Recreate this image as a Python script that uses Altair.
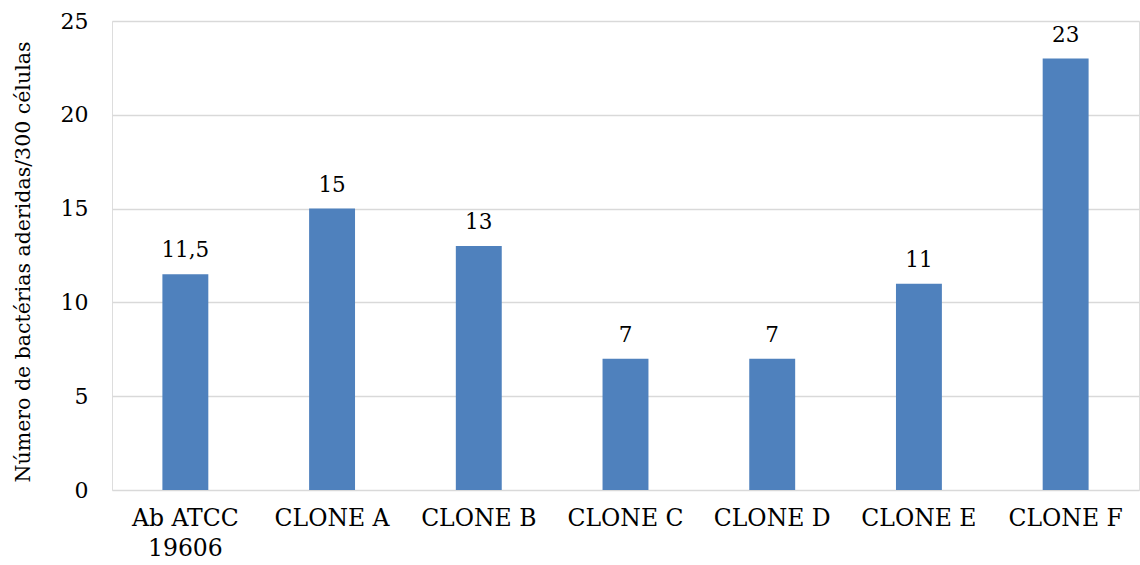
import altair as alt
import pandas as pd

# Adhered bacteria counts per 300 cells for each strain
categories = ["Ab ATCC\n19606", "CLONE A", "CLONE B", "CLONE C", "CLONE D", "CLONE E", "CLONE F"]
values = [11.5, 15, 13, 7, 7, 11, 23]

df = pd.DataFrame({"cat": categories, "val": values})

FONT = "DejaVu Serif"
BAR = "#4F81BD"

x = alt.X(
    "cat:N",
    sort=categories,
    title=None,
    scale=alt.Scale(paddingInner=0.687, paddingOuter=0.3435),
    axis=alt.Axis(
        labelAngle=0,
        labelExpr="split(datum.label, '\\n')",
        labelFont=FONT,
        labelFontSize=23.5,
        labelColor="#000000",
        labelLineHeight=30,
        labelPadding=16,
        ticks=False,
        tickSize=0,
        domain=False,
        grid=False,
    ),
)

y = alt.Y(
    "val:Q",
    title="Número de bactérias aderidas/300 células",
    scale=alt.Scale(domain=[0, 25], nice=False),
    axis=alt.Axis(
        values=[0, 5, 10, 15, 20, 25],
        labelFont=FONT,
        labelFontSize=22,
        labelColor="#000000",
        labelPadding=24,
        ticks=False,
        tickSize=0,
        domain=False,
        grid=True,
        gridColor="#d9d9d9",
        gridWidth=1.3,
        titleFont=FONT,
        titleFontSize=20.5,
        titleFontWeight="normal",
        titleColor="#000000",
        titleX=-79,
        titleY=240.5,
    ),
)

bars = alt.Chart(df).mark_bar(color=BAR).encode(x=x, y=y)

labels = (
    alt.Chart(df)
    .transform_calculate(lbl="replace(format(datum.val, ''), '.', ',')")
    .mark_text(font=FONT, fontSize=21.5, color="#000000", baseline="alphabetic", dy=-17)
    .encode(x=alt.X("cat:N", sort=categories), y="val:Q", text="lbl:N")
)

chart = (
    alt.layer(bars, labels)
    .properties(
        width=1027,
        height=469,
        autosize=alt.AutoSizeParams(type="none"),
        padding={"left": 112, "top": 21, "right": 1, "bottom": 75},
    )
    .configure_view(stroke=None)
    .configure(background="white")
)

chart.save("out.html", embed_options={"renderer": "svg", "actions": False})
